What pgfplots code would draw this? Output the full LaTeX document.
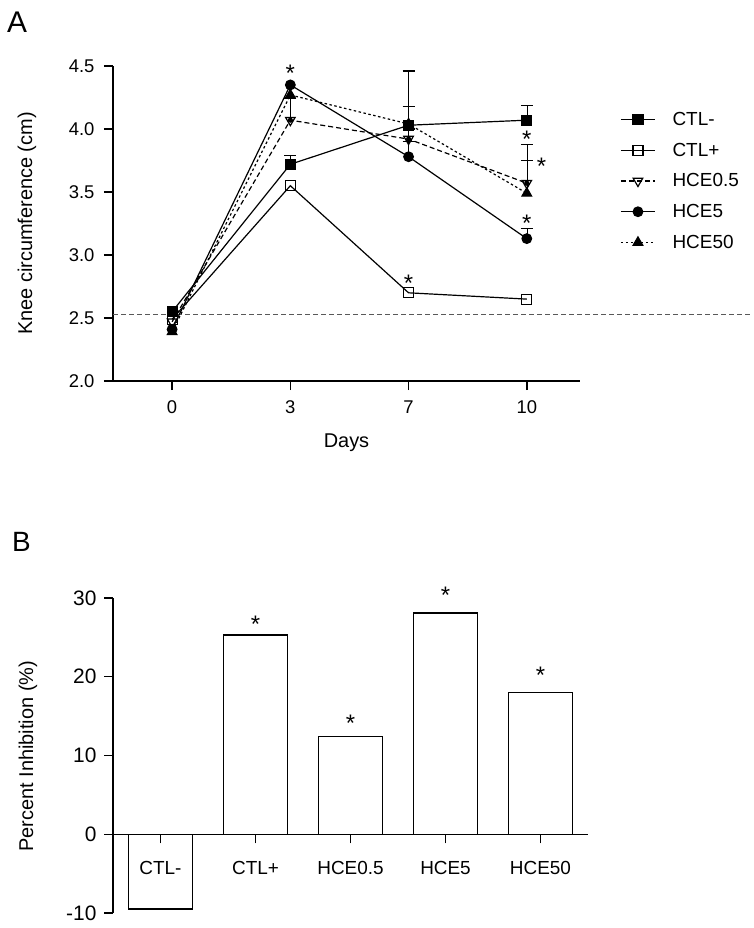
\documentclass[border=0pt]{standalone}
\usepackage{pgfplots}
\pgfplotsset{compat=1.18}
\usepackage{fontspec}
\setmainfont{Liberation Sans}
\begin{document}
\begin{tikzpicture}
\path[use as bounding box] (0,0) rectangle (754bp,-928bp);
\node[anchor=north west, inner sep=0pt, font=\fontsize{30}{34}\selectfont] at (7bp,-12bp) {A};
\node[anchor=north west, inner sep=0pt, font=\fontsize{28}{32}\selectfont] at (12bp,-532bp) {B};
\begin{axis}[
  at={(113bp,-381bp)}, anchor=south west, scale only axis,
  width=467bp, height=315bp,
  xmin=-0.5, xmax=3.45, ymin=2, ymax=4.5,
  clip=false,
  axis x line*=bottom, axis y line*=left,
  axis line style={line width=2.2bp, -},
  tick align=outside, major tick length=9bp,
  tick style={line width=1.6bp, black},
  xtick={0,1,2,3}, xticklabels={0,3,7,10},
  ytick={2,2.5,3,3.5,4,4.5},
  y tick label style={/pgf/number format/.cd, fixed, fixed zerofill, precision=1, /tikz/.cd, xshift=-6bp},
  x tick label style={yshift=-7bp},
  /pgf/number format/assume math mode=true,
  tick label style={font=\fontsize{18.5}{21}\selectfont},
  xlabel={Days}, ylabel={Knee circumference (cm)},
  label style={font=\fontsize{20}{23}\selectfont},
  xlabel style={at={(axis description cs:0.5,-0.197)}, anchor=center},
  ylabel style={at={(axis description cs:-0.184,0.5)}, anchor=center},
  legend style={draw=none, fill=none, at={(axis description cs:1.086,0.86)}, anchor=north west,
     font=\fontsize{19}{22}\selectfont, row sep=12bp, column sep=15bp, inner sep=0pt},
  legend cell align=left,
  legend image code/.code={\draw[mark repeat=2,mark phase=2,#1] plot coordinates {(0bp,0bp) (17bp,0bp) (34bp,0bp)};},
  every axis plot/.append style={line width=1.2bp},
]
% reference line
\addplot[forget plot, black!65, line width=1bp, dash pattern=on 5bp off 3bp] coordinates {(-0.5,2.526) (4.9,2.526)};
% error bars (drawn first)
\addplot[forget plot, black, line width=1.1bp, only marks, mark=none,
  error bars/.cd, y dir=plus, y explicit, error mark=-, error mark options={rotate=90, black, line width=1.1bp, mark size=6bp}]
  coordinates {(1,3.72) +- (0,0.07) (2,4.03) +- (0,0.15) (3,4.07) +- (0,0.12)
               (1,4.07) +- (0,0.17) (2,3.92) +- (0,0.08) (3,3.57) +- (0,0.31)
               (2,3.78) +- (0,0.12) (3,3.13) +- (0,0.08)
               (2,4.04) +- (0,0.42) (3,3.49) +- (0,0.26)};
\addplot[black, solid, mark=square*, mark size=5bp, mark options={solid, fill=black}]
  coordinates {(0,2.55) (1,3.72) (2,4.03) (3,4.07)};
\addlegendentry{CTL-}
\addplot[black, solid, mark=square, mark size=5bp, mark options={solid, fill=white}]
  coordinates {(0,2.49) (1,3.55) (2,2.70) (3,2.65)};
\addlegendentry{CTL+}
\addplot[black, dash pattern=on 5bp off 3bp, mark=triangle, mark size=5.5bp, mark options={solid, fill=white, rotate=180}]
  coordinates {(0,2.47) (1,4.07) (2,3.92) (3,3.57)};
\addlegendentry{HCE0.5}
\addplot[black, solid, mark=*, mark size=4.8bp, mark options={solid, fill=black}]
  coordinates {(0,2.41) (1,4.35) (2,3.78) (3,3.13)};
\addlegendentry{HCE5}
\addplot[black, dash pattern=on 2.5bp off 2.5bp, mark=triangle*, mark size=5.5bp, mark options={solid, fill=black}]
  coordinates {(0,2.39) (1,4.27) (2,4.04) (3,3.49)};
\addlegendentry{HCE50}
\begin{scope}[font=\fontsize{24}{26}\selectfont]
\node[anchor=base] at (axis cs:1,4.38) {*};
\node[anchor=base] at (axis cs:2,2.71) {*};
\node[anchor=base] at (axis cs:3,3.85) {*};
\node[anchor=base] at (axis cs:3.125,3.64) {*};
\node[anchor=base] at (axis cs:3,3.19) {*};
\end{scope}
\end{axis}
\begin{axis}[
  at={(113bp,-913bp)}, anchor=south west, scale only axis,
  width=475bp, height=315bp,
  xmin=0.5, xmax=5.5, ymin=-10, ymax=30,
  clip=false,
  axis x line=middle, axis y line*=left,
  axis line style={line width=1.3bp, -},
  tick align=outside, major tick length=9bp,
  tick style={line width=1.3bp, black},
  xtick={1,2,3,4,5}, xticklabels={CTL-,CTL+,HCE0.5,HCE5,HCE50},
  ytick={-10,0,10,20,30},
  /pgf/number format/assume math mode=true,
  y tick label style={font=\fontsize{21}{24}\selectfont, xshift=-4bp},
  x tick label style={font=\fontsize{19}{22}\selectfont, yshift=-15bp},
  ylabel={Percent Inhibition (\%)},
  ylabel style={font=\fontsize{20}{23}\selectfont, at={(axis description cs:-0.179,0.498)}, anchor=center},
]
\addplot[ybar, bar width=0.667, fill=none, draw=black, line width=1.3bp]
  coordinates {(1,-9.5) (2,25.3) (3,12.4) (4,28.1) (5,18.0)};
\begin{scope}[font=\fontsize{24}{26}\selectfont]
\node[anchor=base] at (axis cs:2,25.6) {*};
\node[anchor=base] at (axis cs:3,13.0) {*};
\node[anchor=base] at (axis cs:4,29.3) {*};
\node[anchor=base] at (axis cs:5,19.2) {*};
\end{scope}
\end{axis}
\end{tikzpicture}
\end{document}
